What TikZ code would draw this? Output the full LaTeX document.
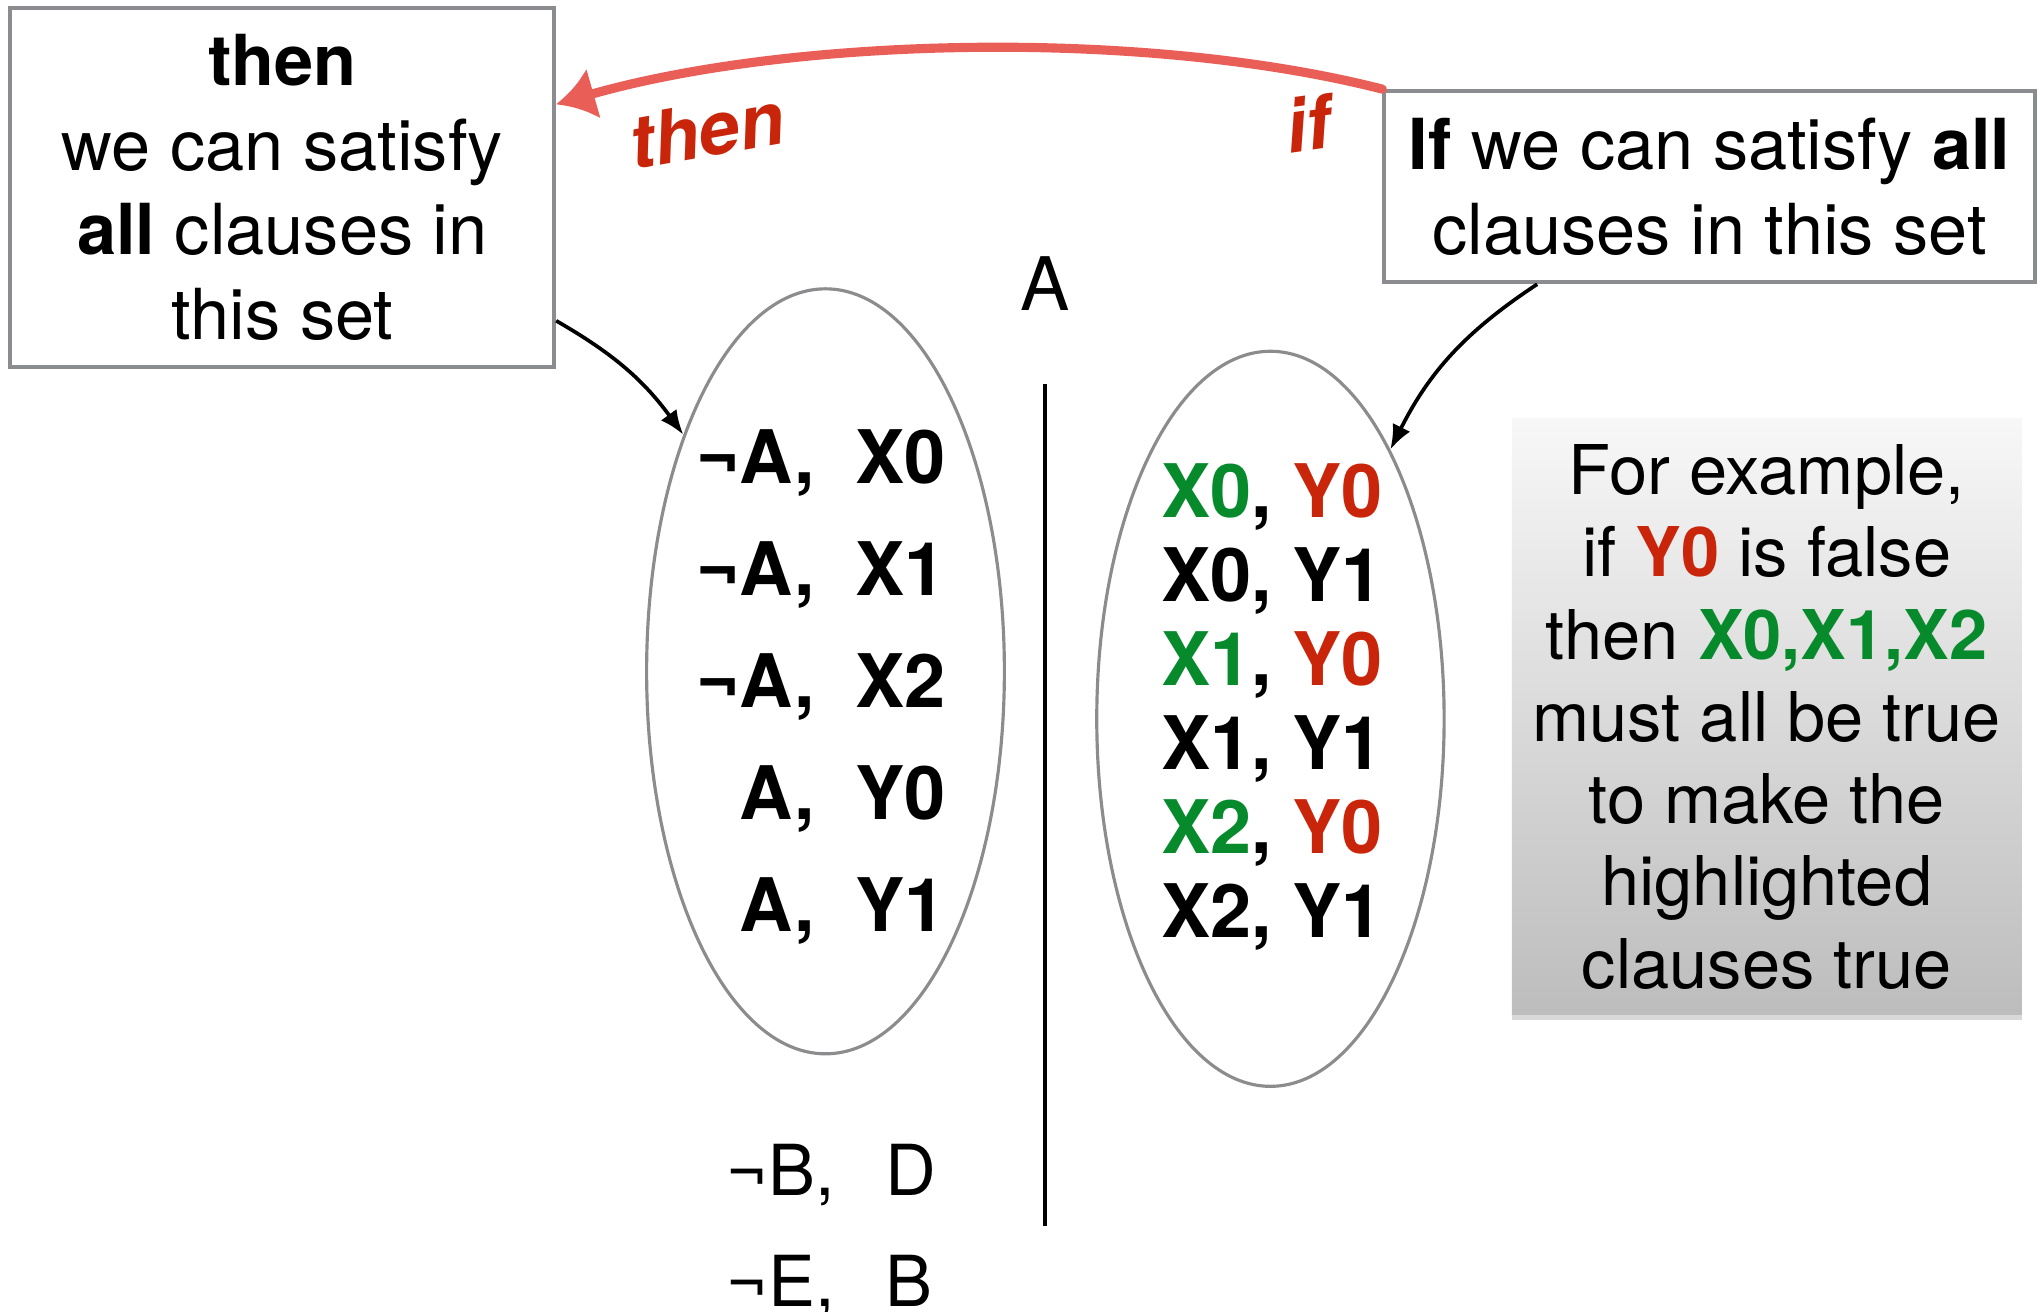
\documentclass[tikz,border=0pt]{standalone}
\usepackage{fontspec}
\setmainfont{TeX Gyre Heros}
\usetikzlibrary{arrows.meta,positioning,shapes.geometric,shadows}
\definecolor{boxGray}{HTML}{8A8C90}
\definecolor{setGray}{HTML}{8C8C8E}
\definecolor{clauseGreen}{HTML}{078A2C}
\definecolor{clauseRed}{HTML}{C8250A}
\definecolor{sketchRed}{HTML}{EA5E58}

\begin{document}
\begin{tikzpicture}[x=0.013cm, y=-0.013cm,
    every node/.style={font=\fontsize{20}{24}\selectfont, inner sep=0pt},
    claimbox/.style={draw=boxGray, line width=1.1pt, align=center},
    notebox/.style={top color=white!97!black, bottom color=black!26, align=center,
      drop shadow={opacity=0.3, shadow xshift=0pt, shadow yshift=-1.5pt},
      font=\fontsize{19.5}{23.4}\selectfont},
    clauseset/.style={ellipse, draw=setGray, line width=0.9pt},
    lit/.style={font=\fontsize{21}{25}\selectfont\bfseries},
    cue/.style={text=clauseRed, font=\fontsize{21}{25}\selectfont\bfseries\itshape},
    pointer/.style={-{Latex[length=7pt,width=5.5pt]}, line width=1.05pt},
    sketch/.style={draw=sketchRed, line width=2.6pt, line cap=round, -{Latex[length=11pt,width=15pt]}}]
  \useasboundingbox (0,0) rectangle (1568,1008);

  \node[claimbox, minimum width=5.434cm, minimum height=3.588cm] (thenbox) at (217,144)
    {{\bfseries then}\\we can satisfy\\{\bfseries all} clauses in\\this set};
  \node[claimbox, minimum width=6.5cm, minimum height=1.911cm] (ifbox) at (1314,143.5)
    {{\bfseries If} we can satisfy {\bfseries all}\\clauses in this set};
  \node[notebox, minimum width=5.096cm, minimum height=5.954cm] (note) at (1358,551)
    {For example,\\if {\color{clauseRed}\bfseries Y0} is false\\then {\color{clauseGreen}\bfseries X0,X1,X2}\\must all be true\\to make the\\highlighted\\clauses true};

  \node[clauseset, minimum width=3.575cm, minimum height=7.644cm] (leftset) at (634.5,516) {};
  \node[clauseset, minimum width=3.471cm, minimum height=7.345cm] (rightset) at (976.5,552.5) {};

  \foreach \litA/\litB [count=\i] in {¬A/X0,¬A/X1,¬A/X2,A/Y0,A/Y1} {
    \node[lit, anchor=base east] (l\i a) at (627,286+86*\i) {\litA,};
    \node[lit, anchor=base west] (l\i b) at (657,286+86*\i) {\litB};
  }
  \foreach \cx/\cy/\litA/\litB [count=\i] in {clauseGreen/clauseRed/X0/Y0, black/black/X0/Y1,
      clauseGreen/clauseRed/X1/Y0, black/black/X1/Y1, clauseGreen/clauseRed/X2/Y0, black/black/X2/Y1}
    \node[lit, anchor=base west] (r\i) at (892,333.5+64.5*\i) {\textcolor{\cx}{\litA}, \textcolor{\cy}{\litB}};

  \node[font=\fontsize{21}{25}\selectfont] (splitlit) at (803,218) {A};
  \coordinate (cuttop) at (803,295);
  \coordinate (cutbot) at (803,942);
  \draw[line width=1.1pt] (cuttop) -- (cutbot);

  \node[anchor=base east] (b1a) at (642,919) {¬B,};
  \node[anchor=base west] (b1b) at (680,919) {D};
  \node[anchor=base east] (b2a) at (642,1004) {¬E,};
  \node[anchor=base west] (b2b) at (680,1004) {B};

  \draw[sketch] (ifbox.north west) .. controls (880,22) and (610,28) .. ([yshift=0.83cm]thenbox.east);
  \node[cue, rotate=10] (thenlbl) at (543,100) {then};
  \node[cue, rotate=8] (iflbl) at (1005,95) {if};

  \draw[pointer] ([yshift=0.48cm]thenbox.south east) to[bend left=12] (leftset.121);
  \draw[pointer] ([xshift=1.547cm]ifbox.south west) to[bend right=15] (rightset.66);
\end{tikzpicture}
\end{document}
